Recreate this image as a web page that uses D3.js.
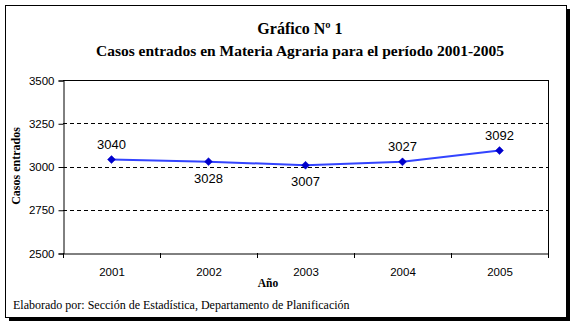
<!DOCTYPE html>
<html><head><meta charset="utf-8">
<script src="https://cdn.jsdelivr.net/npm/d3@7"></script>
<style>body{margin:0;background:#fff}svg{display:block}</style>
</head><body>
<script>
const years = ["2001","2002","2003","2004","2005"];
const casos = [3040, 3028, 3007, 3027, 3092];
const labelPos = ["above","below","below","above","above"];
const yTicks = [2500, 2750, 3000, 3250, 3500];

const W = 575, H = 325;
const SERIF = '"Liberation Serif"', SANS = '"Liberation Sans"';
const svg = d3.select("body").append("svg").attr("width", W).attr("height", H);

// shadow + frame
svg.append("rect").attr("x", 9).attr("y", 9).attr("width", 561).attr("height", 312).attr("fill", "#000");
svg.append("rect").attr("x", 5.5).attr("y", 5.5).attr("width", 561).attr("height", 312).attr("fill", "#fff").attr("stroke", "#000").attr("stroke-width", 1);

const L = 63, R = 548, T = 80, B = 253;
const x = d3.scaleBand().domain(years).range([L, R]);
const y = d3.scaleLinear().domain([2500, 3500]).range([B, T]);

// gridlines
svg.append("g").selectAll("line").data(yTicks.filter(v => v > 2500 && v < 3500)).join("line")
  .attr("x1", L).attr("x2", R).attr("y1", d => Math.round(y(d)) + 0.5).attr("y2", d => Math.round(y(d)) + 0.5)
  .attr("stroke", "#000").attr("stroke-dasharray", "4,3").attr("stroke-width", 1);
svg.append("line").attr("x1", L).attr("x2", R + 0.5).attr("y1", T + 0.5).attr("y2", T + 0.5).attr("stroke", "#000");
svg.append("line").attr("x1", R + 0.5).attr("x2", R + 0.5).attr("y1", T).attr("y2", B).attr("stroke", "#000");

// y axis
const yAxis = d3.axisLeft(y).tickValues(yTicks).tickFormat(d3.format("d")).tickSize(5).tickPadding(4);
const gy = svg.append("g").attr("transform", `translate(${L + 0.5},0.5)`).call(yAxis);
gy.selectAll("text").style("font-family", SANS).attr("font-size", 11.5).attr("fill", "#000");
gy.selectAll("line,path").attr("stroke", "#000");

// x axis
const gx = svg.append("g").attr("transform", `translate(0.5,${B + 0.5})`)
  .call(d3.axisBottom(x).tickSize(0).tickPadding(14));
gx.selectAll("text").style("font-family", SANS).attr("font-size", 11.5).attr("fill", "#000");
gx.select("path").attr("stroke", "#000");
svg.append("g").selectAll("line").data(years.concat(["end"])).join("line")
  .attr("x1", (d, i) => Math.round(L + i * x.bandwidth()) + 0.5)
  .attr("x2", (d, i) => Math.round(L + i * x.bandwidth()) + 0.5)
  .attr("y1", B).attr("y2", B + 5).attr("stroke", "#000");

// line
const cx = d => x(d) + x.bandwidth() / 2;
svg.append("path").datum(years.map((d, i) => [cx(d), y(casos[i])]))
  .attr("d", d3.line()).attr("fill", "none").attr("stroke", "#3344ff").attr("stroke-width", 2);
svg.append("g").selectAll("path").data(years).join("path")
  .attr("transform", (d, i) => `translate(${cx(d)},${y(casos[i])})`)
  .attr("d", d3.symbol(d3.symbolDiamond2, 40)).attr("fill", "#0000cc").attr("stroke", "#0000cc").attr("stroke-width", 0.5);
svg.append("g").selectAll("text").data(years).join("text").style("font-family", SANS)
  .attr("x", d => cx(d)).attr("y", (d, i) => y(casos[i]) + (labelPos[i] === "above" ? -11 : 21))
  .attr("text-anchor", "middle").attr("font-size", 13).attr("fill", "#000")
  .text((d, i) => casos[i]);

// titles
svg.append("text").style("font-family", SERIF).attr("x", 300).attr("y", 34).attr("text-anchor", "middle")
  .attr("font-weight", "bold").attr("font-size", 16).text("Gráfico Nº 1");
svg.append("text").style("font-family", SERIF).attr("x", 300).attr("y", 56).attr("text-anchor", "middle")
  .attr("font-weight", "bold").attr("font-size", 15.5)
  .text("Casos entrados en Materia Agraria para el período 2001-2005");
svg.append("text").style("font-family", SERIF).attr("transform", "translate(20,166) rotate(-90)").attr("text-anchor", "middle")
  .attr("font-weight", "bold").attr("font-size", 12).text("Casos entrados");
svg.append("text").style("font-family", SERIF).attr("x", 268).attr("y", 287).attr("text-anchor", "middle")
  .attr("font-weight", "bold").attr("font-size", 11.5).text("Año");
svg.append("text").style("font-family", SERIF).attr("x", 13).attr("y", 309)
  .attr("font-size", 12).text("Elaborado por: Sección de Estadística, Departamento de Planificación");
</script>
</body></html>
